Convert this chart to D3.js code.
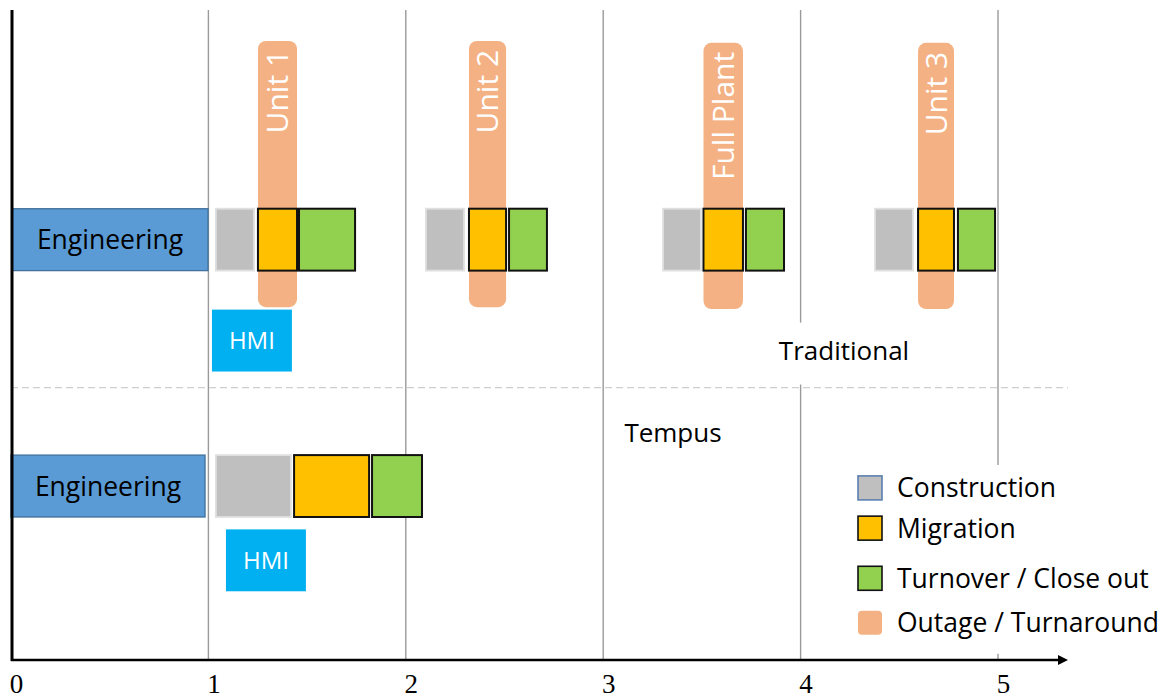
<!DOCTYPE html>
<html>
<head>
<meta charset="utf-8">
<script src="https://cdn.jsdelivr.net/npm/d3@7"></script>
<style>
  html, body { margin: 0; padding: 0; background: #fff; }
  svg { display: block; }
  .sans { font-family: "Open Sans", "Noto Sans", sans-serif; }
</style>
</head>
<body>
<svg id="chart" width="1170" height="698"></svg>
<script>
// ---- data ----------------------------------------------------------------
const xTicks = [0, 1, 2, 3, 4, 5];

// lanes on the vertical "track" scale (1 unit = one bar height)
const rowLanes = {
  Traditional: { bar: 3.21, hmi: 4.84, label: 5.51 },
  Tempus:      { bar: 7.19, hmi: 8.39, label: 6.83 }
};

const engineering = [
  { row: "Traditional", start: 0.005, end: 0.998 },
  { row: "Tempus",      start: 0.0,   end: 0.983 }
];
const hmi = [
  { row: "Traditional", start: 1.018, end: 1.423 },
  { row: "Tempus",      start: 1.089, end: 1.494 }
];
const construction = [
  { row: "Traditional", start: 1.038, end: 1.231 },
  { row: "Traditional", start: 2.102, end: 2.295 },
  { row: "Traditional", start: 3.303, end: 3.495 },
  { row: "Traditional", start: 4.377, end: 4.569 },
  { row: "Tempus",      start: 1.038, end: 1.418 }
];
const migration = [
  { row: "Traditional", start: 1.251, end: 1.449 },
  { row: "Traditional", start: 2.320, end: 2.508 },
  { row: "Traditional", start: 3.508, end: 3.708 },
  { row: "Traditional", start: 4.595, end: 4.777 },
  { row: "Tempus",      start: 1.434, end: 1.814 }
];
const turnover = [
  { row: "Traditional", start: 1.459, end: 1.743 },
  { row: "Traditional", start: 2.523, end: 2.715 },
  { row: "Traditional", start: 3.723, end: 3.916 },
  { row: "Traditional", start: 4.797, end: 4.985 },
  { row: "Tempus",      start: 1.829, end: 2.082 }
];
const outages = [
  { label: "Unit 1",     start: 1.251, end: 1.449, top: 0.50, bottom: 4.80 },
  { label: "Unit 2",     start: 2.320, end: 2.508, top: 0.50, bottom: 4.80 },
  { label: "Full Plant", start: 3.508, end: 3.708, top: 0.53, bottom: 4.83 },
  { label: "Unit 3",     start: 4.595, end: 4.777, top: 0.53, bottom: 4.83 }
];
const legendItems = [
  { name: "Construction",         fill: "#BFBFBF", stroke: "#5B80B0", rx: 0 },
  { name: "Migration",            fill: "#FFC000", stroke: "#111",    rx: 0 },
  { name: "Turnover / Close out", fill: "#92D050", stroke: "#111",    rx: 0 },
  { name: "Outage / Turnaround",  fill: "#F4B183", stroke: "none",    rx: 4 }
];
const legendLanes = [7.72, 8.37, 9.18, 9.90];

// ---- scales --------------------------------------------------------------
const svg = d3.select("#chart");
const x = d3.scaleLinear().domain([0, 5]).range([11, 998]);
const y = d3.scaleLinear().domain([0, 10.5]).range([10, 660]);
const axisY = y(10.5);
const axisEnd = 1068;

// ---- grid ----------------------------------------------------------------
svg.append("g").selectAll("line")
  .data(xTicks.filter(d => d > 0))
  .join("line")
  .attr("x1", d => x(d)).attr("x2", d => x(d))
  .attr("y1", y(0)).attr("y2", axisY)
  .attr("stroke", "#9a9a9a").attr("stroke-width", 1.4);

// section divider
svg.append("line")
  .attr("x1", x(0)).attr("x2", axisEnd)
  .attr("y1", y(6.1)).attr("y2", y(6.1))
  .attr("stroke", "#cfcfcf").attr("stroke-width", 1.4)
  .attr("stroke-dasharray", "7,4");

// ---- row label boxes (white backgrounds hide the grid) -------------------
svg.append("rect").attr("x", 770).attr("y", y(5.05)).attr("width", 145).attr("height", y(6.05) - y(5.05)).attr("fill", "#fff");
svg.append("rect").attr("x", 850).attr("y", y(7.35)).attr("width", 315).attr("height", y(10.4) - y(7.35)).attr("fill", "#fff");

svg.append("text").attr("class", "sans")
  .attr("x", 844).attr("y", y(rowLanes.Traditional.label))
  .attr("text-anchor", "middle").attr("dy", "0.36em")
  .attr("font-size", 26).attr("fill", "#000").text("Traditional");
svg.append("text").attr("class", "sans")
  .attr("x", 673).attr("y", y(rowLanes.Tempus.label))
  .attr("text-anchor", "middle").attr("dy", "0.36em")
  .attr("font-size", 26).attr("fill", "#000").text("Tempus");

// ---- outages (drawn behind the phase bars) --------------------------------
const outG = svg.append("g").selectAll("g").data(outages).join("g");
outG.append("rect")
  .attr("x", d => x(d.start)).attr("width", d => x(d.end) - x(d.start))
  .attr("y", d => y(d.top)).attr("height", d => y(d.bottom) - y(d.top))
  .attr("rx", 8).attr("fill", "#F4B183");
outG.append("text").attr("class", "sans")
  .attr("transform", d => `translate(${(x(d.start) + x(d.end)) / 2},${y(d.top) + 9}) rotate(-90)`)
  .attr("text-anchor", "end").attr("dy", "0.36em")
  .attr("font-size", 30).attr("fill", "#fff")
  .text(d => d.label);

// ---- bars ----------------------------------------------------------------
function bars(data, lane, fill, stroke, sw) {
  svg.append("g").selectAll("rect").data(data).join("rect")
    .attr("x", d => x(d.start)).attr("width", d => x(d.end) - x(d.start))
    .attr("y", d => y(rowLanes[d.row][lane])).attr("height", y(1) - y(0))
    .attr("fill", fill).attr("stroke", stroke).attr("stroke-width", sw);
}
bars(engineering, "bar", "#5B9BD5", "#41719C", 1.3);
bars(construction, "bar", "#BFBFBF", "#E0E0E0", 1.8);
bars(migration, "bar", "#FFC000", "#111", 2);
bars(turnover, "bar", "#92D050", "#111", 2);
bars(hmi, "hmi", "#00B0F0", "none", 0);

svg.append("g").selectAll("text").data(engineering).join("text").attr("class", "sans")
  .attr("x", d => (x(d.start) + x(d.end)) / 2)
  .attr("y", d => y(rowLanes[d.row].bar + 0.5))
  .attr("text-anchor", "middle").attr("dy", "0.36em")
  .attr("font-size", 26.5).attr("fill", "#000").text("Engineering");
svg.append("g").selectAll("text").data(hmi).join("text").attr("class", "sans")
  .attr("x", d => (x(d.start) + x(d.end)) / 2)
  .attr("y", d => y(rowLanes[d.row].hmi + 0.5))
  .attr("text-anchor", "middle").attr("dy", "0.36em")
  .attr("font-size", 24).attr("fill", "#fff").text("HMI");

// ---- legend --------------------------------------------------------------
const lg = svg.append("g").selectAll("g").data(legendItems).join("g")
  .attr("transform", (d, i) => `translate(858,${y(legendLanes[i])})`);
lg.append("rect")
  .attr("x", 0).attr("y", -12).attr("width", 24).attr("height", 24)
  .attr("rx", d => d.rx)
  .attr("fill", d => d.fill).attr("stroke", d => d.stroke).attr("stroke-width", 1.6);
lg.append("text").attr("class", "sans")
  .attr("x", 39).attr("dy", "0.36em")
  .attr("font-size", 26.5).attr("fill", "#000").text(d => d.name);

// ---- axes ----------------------------------------------------------------
svg.append("line")
  .attr("x1", 12).attr("x2", 12).attr("y1", y(0)).attr("y2", axisY + 1)
  .attr("stroke", "#000").attr("stroke-width", 3);
svg.append("line")
  .attr("x1", 11).attr("x2", axisEnd - 8).attr("y1", axisY).attr("y2", axisY)
  .attr("stroke", "#000").attr("stroke-width", 2.6);
svg.append("path")
  .attr("d", `M${axisEnd - 10},${axisY - 5}L${axisEnd},${axisY}L${axisEnd - 10},${axisY + 5}Z`)
  .attr("fill", "#000");

const xAxis = d3.axisBottom(x).tickValues(xTicks).tickSize(0).tickPadding(0).tickFormat(d3.format("d"));
const axG = svg.append("g").attr("transform", `translate(0,${axisY})`).call(xAxis);
axG.select(".domain").remove();
axG.selectAll("text")
  .attr("font-family", "'Liberation Serif', 'Times New Roman', serif")
  .attr("font-size", 27).attr("fill", "#000")
  .attr("x", 5).attr("dy", null).attr("y", 33);
</script>
</body>
</html>
